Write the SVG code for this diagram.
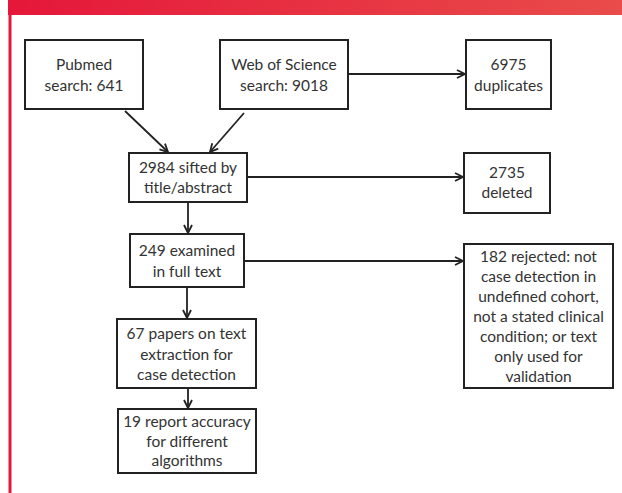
<svg xmlns="http://www.w3.org/2000/svg" width="622" height="493" viewBox="0 0 622 493">
<defs>
<linearGradient id="bannerGrad" x1="0" y1="0" x2="1" y2="0">
<stop offset="0" stop-color="#e5173a"/>
<stop offset="1" stop-color="#e94c4a"/>
</linearGradient>
<marker id="arrow" viewBox="0 0 10 10" refX="9" refY="5" markerWidth="10" markerHeight="10" markerUnits="userSpaceOnUse" orient="auto">
<path d="M1,1 L9,5 L1,9" fill="none" stroke="#222" stroke-width="1.8"/>
</marker>
</defs>
<style>
.box{fill:#fff;stroke:#222;stroke-width:2}
.lbl{font-family:Lato,"Noto Sans","Liberation Sans",sans-serif;font-size:15.5px;fill:#333;text-anchor:middle}
.conn{fill:none;stroke:#222;stroke-width:1.8;marker-end:url(#arrow)}
</style>
<rect x="0" y="0" width="622" height="493" fill="#fff"/>
<rect x="8" y="0" width="614" height="15" fill="url(#bannerGrad)"/>
<rect x="8.5" y="15" width="3" height="478" fill="#e5173a"/>

<g id="connectors">
<line class="conn" x1="125" y1="111" x2="168" y2="152"/>
<line class="conn" x1="244" y1="113" x2="210" y2="152"/>
<line class="conn" x1="348" y1="74" x2="465" y2="74"/>
<line class="conn" x1="247" y1="177" x2="463" y2="177"/>
<line class="conn" x1="188" y1="202" x2="188" y2="233"/>
<line class="conn" x1="244" y1="261" x2="463" y2="261"/>
<line class="conn" x1="187" y1="287" x2="187" y2="318"/>
<line class="conn" x1="188" y1="388" x2="188" y2="408"/>
</g>

<g id="pubmed">
<rect class="box" x="25" y="40" width="118" height="69"/>
<text class="lbl" x="84" y="70">Pubmed</text>
<text class="lbl" x="84" y="91">search: 641</text>
</g>
<g id="wos">
<rect class="box" x="220" y="40" width="128" height="69"/>
<text class="lbl" x="284" y="70">Web of Science</text>
<text class="lbl" x="284" y="91">search: 9018</text>
</g>
<g id="duplicates">
<rect class="box" x="466" y="40" width="85" height="69"/>
<text class="lbl" x="508.5" y="70">6975</text>
<text class="lbl" x="508.5" y="90.5">duplicates</text>
</g>
<g id="sifted">
<rect class="box" x="129" y="153" width="118" height="49"/>
<text class="lbl" x="188" y="173">2984 sifted by</text>
<text class="lbl" x="188" y="193">title/abstract</text>
</g>
<g id="deleted">
<rect class="box" x="464" y="153" width="86" height="60"/>
<text class="lbl" x="507" y="178">2735</text>
<text class="lbl" x="507" y="198">deleted</text>
</g>
<g id="examined">
<rect class="box" x="130" y="234" width="114" height="53"/>
<text class="lbl" x="187" y="256">249 examined</text>
<text class="lbl" x="187" y="277">in full text</text>
</g>
<g id="rejected">
<rect class="box" x="464" y="244" width="149" height="144"/>
<text class="lbl" x="538.5" y="262">182 rejected: not</text>
<text class="lbl" x="538.5" y="282">case detection in</text>
<text class="lbl" x="538.5" y="302">undefined cohort,</text>
<text class="lbl" x="538.5" y="322">not a stated clinical</text>
<text class="lbl" x="538.5" y="342">condition; or text</text>
<text class="lbl" x="538.5" y="362">only used for</text>
<text class="lbl" x="538.5" y="382">validation</text>
</g>
<g id="papers67">
<rect class="box" x="117" y="319" width="139" height="69"/>
<text class="lbl" x="186.5" y="339">67 papers on text</text>
<text class="lbl" x="186.5" y="360">extraction for</text>
<text class="lbl" x="186.5" y="380">case detection</text>
</g>
<g id="report19">
<rect class="box" x="118" y="409" width="138" height="64"/>
<text class="lbl" x="187" y="427">19 report accuracy</text>
<text class="lbl" x="187" y="447">for different</text>
<text class="lbl" x="187" y="466">algorithms</text>
</g>
</svg>
